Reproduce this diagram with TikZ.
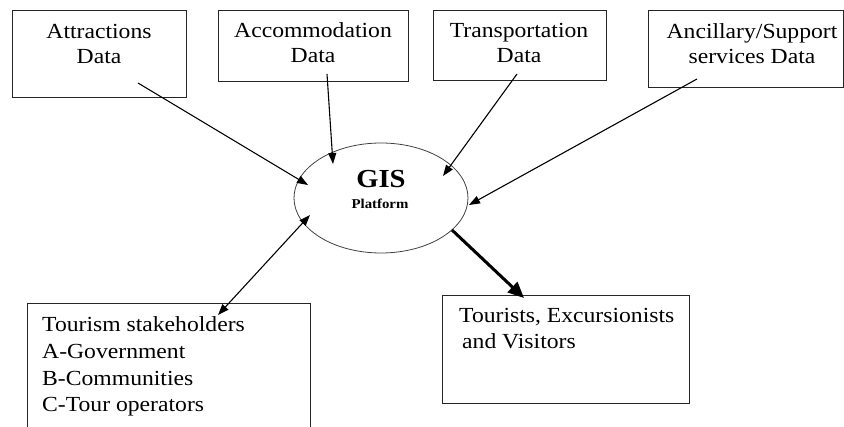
\documentclass[tikz,border=0pt]{standalone}
\usepackage{fontspec}
\setmainfont{Liberation Serif}[FakeStretch=1.1]
\usetikzlibrary{shapes.geometric,arrows.meta}
\begin{document}
\begin{tikzpicture}[x=1pt,y=-1pt,
  box/.style={draw=black!85, line width=1pt, anchor=north west, inner sep=0pt},
  txt/.style={font=\fontsize{21.5}{25.5}\selectfont, inner sep=0pt},
  ctxt/.style={txt, align=center, anchor=base},
  ltxt/.style={txt, align=left, anchor=base west},
  arr/.style={line width=1.1pt, -{Triangle[length=11pt,width=8pt]}},
  dblarr/.style={line width=1.1pt, {Triangle[length=11pt,width=8pt]}-{Triangle[length=11pt,width=8pt]}},
  thickarr/.style={line width=3pt, -{Triangle[length=16pt,width=14pt]}}]
\useasboundingbox (0,0) rectangle (844,427);

% data sources along the top (text anchors sit on the last line's baseline)
\node[box, minimum width=174pt, minimum height=87pt] (attr) at (12,10) {};
\node[ctxt] (attrT) at (99,64) {Attractions\\Data};
\node[box, minimum width=190pt, minimum height=71pt] (accom) at (218,10) {};
\node[ctxt] (accomT) at (313,63) {Accommodation\\Data};
\node[box, minimum width=173pt, minimum height=70pt] (trans) at (433,10) {};
\node[ctxt] (transT) at (519,63) {Transportation\\Data};
\node[box, minimum width=195pt, minimum height=77pt] (anc) at (648,10) {};
\node[ctxt] (ancT) at (752,64) {Ancillary/Support\\services Data};

% central platform
\node[draw=black!75, line width=0.8pt, ellipse, minimum width=174pt, minimum height=110pt, inner sep=0pt] (gis) at (381,198) {};
\node[font=\fontsize{26}{30}\selectfont\bfseries, inner sep=0pt, anchor=base] (gisT) at (381,188) {GIS};
\node[font=\fontsize{13.5}{16}\selectfont\bfseries, inner sep=0pt, anchor=base] (gisP) at (380,209) {Platform};

% users of the platform
\node[box, minimum width=283pt, minimum height=140pt] (stake) at (27,303) {};
\node[ltxt, font=\fontsize{21.5}{26.7}\selectfont] (stakeT) at (42,412) {Tourism stakeholders\\A-Government\\B-Communities\\C-Tour operators};
\node[box, minimum width=247pt, minimum height=108pt] (tour) at (442,295) {};
\node[ltxt, font=\fontsize{21.5}{26}\selectfont] (tourT) at (459,349) {Tourists, Excursionists\\\hspace{3pt}and Visitors};

% connector end points
\coordinate (sA) at (138,83);
\coordinate (sB) at (327,74);
\coordinate (sC) at (517,74);
\coordinate (sD) at (697,79);
\coordinate (tA) at ([shift={(-73,-13)}]gis.center);
\coordinate (tB) at ([shift={(-48,-34)}]gis.center);
\coordinate (tC) at ([shift={(62,-22)}]gis.center);
\coordinate (tD) at ([shift={(88,7)}]gis.center);
\coordinate (tE) at ([shift={(-71,17)}]gis.center);
\coordinate (sF) at ([shift={(71,32)}]gis.center);
\coordinate (tS) at (218,315);
\coordinate (tT) at (524,298);

% connectors
\draw[arr] (sA) -- (tA);
\draw[arr] (sB) -- (tB);
\draw[arr] (sC) -- (tC);
\draw[arr] (sD) -- (tD);
\draw[dblarr] (tS) -- (tE);
\draw[thickarr] (sF) -- (tT);
\end{tikzpicture}
\end{document}
